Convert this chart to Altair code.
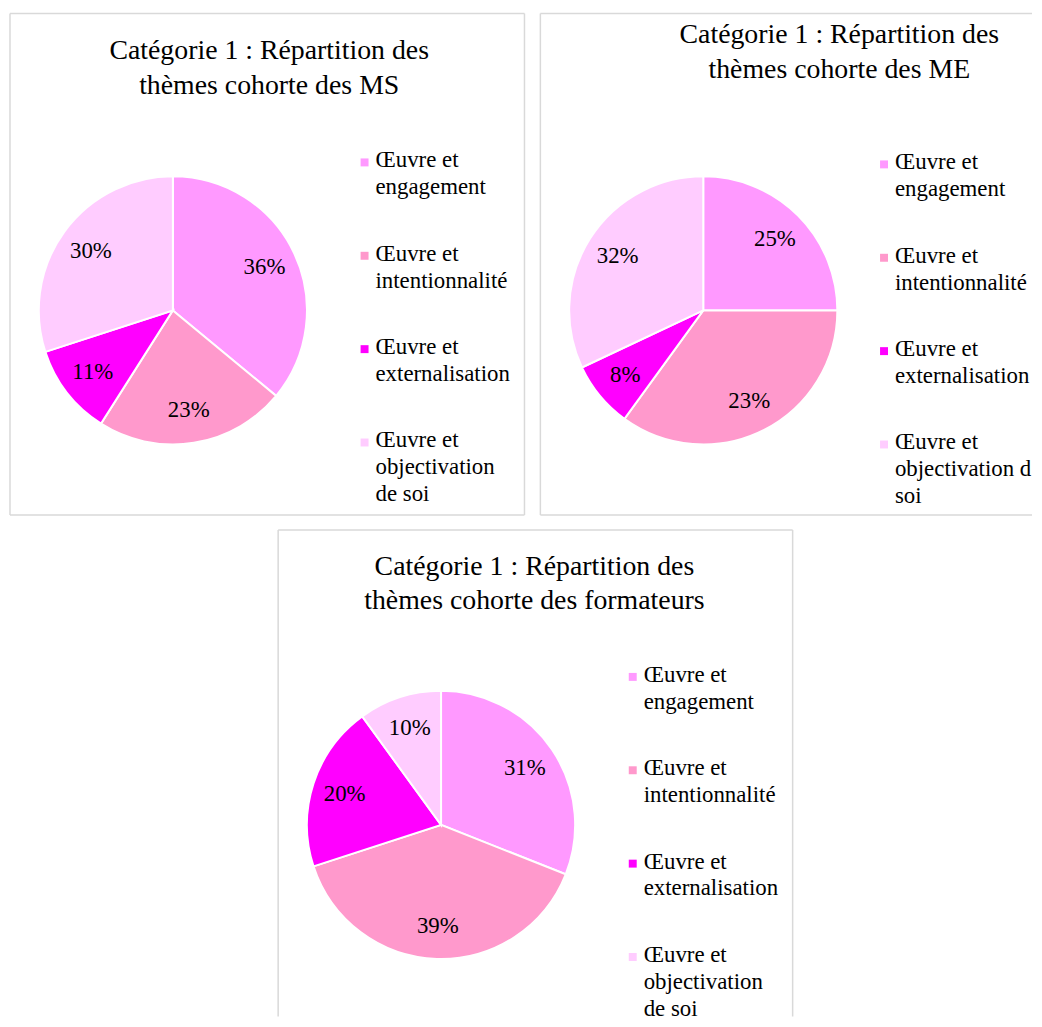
import altair as alt
import pandas as pd

themes = ["Œuvre et engagement", "Œuvre et intentionnalité",
          "Œuvre et externalisation", "Œuvre et objectivation de soi"]
colors = ["#FF99FF", "#FF99CC", "#FF00FF", "#FFCCFF"]

ms_values = [36, 23, 11, 30]
ms_labels = ["36%", "23%", "11%", "30%"]
me_values = [25, 35, 8, 32]
me_labels = ["25%", "23%", "8%", "32%"]
fo_values = [31, 39, 20, 10]
fo_labels = ["31%", "39%", "20%", "10%"]

legend_std = ["Œuvre et\nengagement", "Œuvre et\nintentionnalité",
              "Œuvre et\nexternalisation", "Œuvre et\nobjectivation\nde soi"]
legend_me = ["Œuvre et\nengagement", "Œuvre et\nintentionnalité",
             "Œuvre et\nexternalisation", "Œuvre et\nobjectivation de\nsoi"]

title_ms = "Catégorie 1 : Répartition des\nthèmes cohorte des MS"
title_me = "Catégorie 1 : Répartition des\nthèmes cohorte des ME"
title_fo = "Catégorie 1 : Répartition des\nthèmes cohorte des formateurs"

FONT = "Liberation Serif"
GRID = "#d9d9d9"
NO_BORDER = alt.ViewBackground(stroke="transparent")


def border(w, h, sides):
    one = pd.DataFrame({"a": [0]})
    segs = {
        "left": dict(x=alt.value(0), y=alt.value(0), y2=alt.value(h)),
        "right": dict(x=alt.value(w), y=alt.value(0), y2=alt.value(h)),
        "top": dict(x=alt.value(0), x2=alt.value(w), y=alt.value(0)),
        "bottom": dict(x=alt.value(0), x2=alt.value(w), y=alt.value(h)),
    }
    return [alt.Chart(one).mark_rule(color=GRID, strokeWidth=1.5).encode(**segs[s])
            for s in sides]


def panel(values, labels, legend_lines, title, w, h, title_x, title_y,
          cx, cy, sym_x, leg_y0, sides, text_limit=0):
    df = pd.DataFrame({"theme": themes, "value": values, "label": labels,
                       "legend": legend_lines, "order": list(range(4))})
    color = alt.Color("theme:N", scale=alt.Scale(domain=themes, range=colors),
                      legend=None)
    base = alt.Chart(df)
    arcs = base.mark_arc(radius=135, stroke="white", strokeWidth=2).encode(
        theta=alt.Theta("value:Q", stack=True),
        color=color,
        order=alt.Order("order:Q"),
        x=alt.value(cx), y=alt.value(cy),
    )
    pct = base.mark_text(radius=102, font=FONT, fontSize=23, color="#000000",
                         baseline="middle", align="center").encode(
        theta=alt.Theta("value:Q", stack=True),
        order=alt.Order("order:Q"),
        text="label:N",
        x=alt.value(cx), y=alt.value(cy),
    )
    ly = alt.Y("theme:N", scale=alt.Scale(type="point", domain=themes,
                                          range=[leg_y0, leg_y0 + 282], padding=0),
               axis=None)
    syms = base.mark_square(size=64, opacity=1, filled=True).encode(
        x=alt.value(sym_x), y=ly, color=color)
    tkw = dict(font=FONT, fontSize=23, color="#000000", align="left",
               baseline="top", lineBreak="\n", lineHeight=27, dy=-13)
    if text_limit:
        tkw.update(limit=text_limit, ellipsis="\u200b")
    ltxt = base.mark_text(**tkw).encode(
        x=alt.value(sym_x + 11), y=ly, text="legend:N")
    ttl = alt.Chart(pd.DataFrame({"t": [title]})).mark_text(
        font=FONT, fontSize=28, color="#000000", align="center",
        baseline="top", lineBreak="\n", lineHeight=35).encode(
        text="t:N", x=alt.value(title_x), y=alt.value(title_y))
    layers = border(w, h, sides) + [arcs, pct, syms, ltxt, ttl]
    return alt.layer(*layers).properties(width=w, height=h, view=NO_BORDER)


ALL = ["left", "right", "top", "bottom"]
p_ms = panel(ms_values, ms_labels, legend_std, title_ms, 518, 505,
             261, 24, 164, 299, 357, 150, ALL)
p_me = panel(me_values, me_labels, legend_me, title_me, 495, 505,
             301, 8, 164, 299, 346, 152, ["left", "top", "bottom"],
             text_limit=138)
p_fo = panel(fo_values, fo_labels, legend_std, title_fo, 518, 490,
             258, 23, 164, 297, 357, 148, ["left", "right", "top"])

spacer = alt.Chart(pd.DataFrame({"v": [0]})).mark_point(opacity=0, size=1).encode(
    x=alt.value(20), y=alt.value(20)).properties(
    width=255, height=490, view=NO_BORDER)

top = alt.hconcat(p_ms, p_me, spacing=12)
bottom = alt.hconcat(spacer, p_fo, spacing=12)

chart = alt.vconcat(top, bottom, spacing=11).properties(
    padding={"left": 0, "top": 0, "right": 0, "bottom": 0},
    background="white",
).configure_view(stroke="transparent")

chart.save("out.html", embed_options={"renderer": "svg", "actions": False})
